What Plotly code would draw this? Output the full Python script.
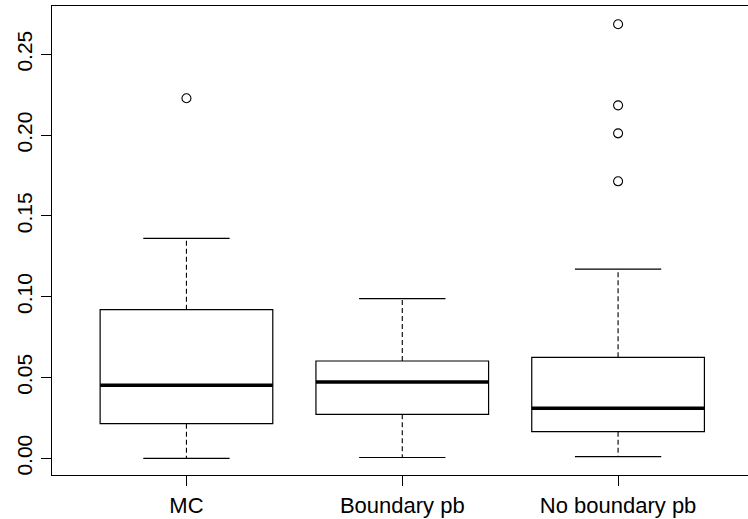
import plotly.graph_objects as go

# ---- data ----
categories = ["MC", "Boundary pb", "No boundary pb"]
positions = [1, 2, 3]
lower_whisker = [0.0000, 0.0005, 0.0010]
q1 = [0.0214, 0.0272, 0.0165]
median = [0.0452, 0.0472, 0.0309]
q3 = [0.0920, 0.0602, 0.0625]
upper_whisker = [0.1361, 0.0988, 0.1171]
outliers = [[0.2228], [], [0.2686, 0.2184, 0.2011, 0.1714]]
y_tick_values = [0.00, 0.05, 0.10, 0.15, 0.20, 0.25]
y_tick_labels = ["0.00", "0.05", "0.10", "0.15", "0.20", "0.25"]

BOX_HALF = 0.4
CAP_HALF = 0.2
FONT = "Liberation Sans, Arial, Helvetica, sans-serif"

fig = go.Figure()
shapes = []
for i, p in enumerate(positions):
    # box
    shapes.append(dict(type="rect", xref="x", yref="y",
                       x0=p - BOX_HALF, x1=p + BOX_HALF, y0=q1[i], y1=q3[i],
                       line=dict(color="black", width=1.2), fillcolor="rgba(0,0,0,0)"))
    # median
    shapes.append(dict(type="line", xref="x", yref="y",
                       x0=p - BOX_HALF, x1=p + BOX_HALF, y0=median[i], y1=median[i],
                       line=dict(color="black", width=3.5)))
    # whiskers (dashed)
    shapes.append(dict(type="line", xref="x", yref="y",
                       x0=p, x1=p, y0=q3[i], y1=upper_whisker[i],
                       line=dict(color="black", width=1.1, dash="5px,3px")))
    shapes.append(dict(type="line", xref="x", yref="y",
                       x0=p, x1=p, y0=q1[i], y1=lower_whisker[i],
                       line=dict(color="black", width=1.1, dash="5px,3px")))
    # caps
    for w in (upper_whisker[i], lower_whisker[i]):
        shapes.append(dict(type="line", xref="x", yref="y",
                           x0=p - CAP_HALF, x1=p + CAP_HALF, y0=w, y1=w,
                           line=dict(color="black", width=1.2)))

ox, oy = [], []
for i, p in enumerate(positions):
    for v in outliers[i]:
        ox.append(p)
        oy.append(v)
fig.add_trace(go.Scatter(x=ox, y=oy, mode="markers",
                         marker=dict(symbol="circle-open", size=9, color="black",
                                     line=dict(width=1.1, color="black")),
                         showlegend=False, hoverinfo="skip"))

fig.update_layout(
    width=748, height=519,
    margin=dict(l=52, r=0, t=6, b=44),
    paper_bgcolor="white", plot_bgcolor="white",
    shapes=shapes,
    font=dict(family=FONT, size=22, color="black"),
    showlegend=False,
)
fig.update_xaxes(
    range=[0.377, 3.602], tickmode="array", tickvals=positions, ticktext=categories,
    ticks="outside", ticklen=10, tickwidth=1.1, tickcolor="black",
    showline=True, linecolor="black", linewidth=1.3, mirror=True,
    showgrid=False, zeroline=False,
    tickfont=dict(family=FONT, size=22, color="black"),
)
fig.update_yaxes(
    range=[-0.01033, 0.27989], tickmode="array", tickvals=y_tick_values, ticktext=y_tick_labels,
    ticks="outside", ticklen=10, tickwidth=1.1, tickcolor="black", tickangle=-90,
    showline=True, linecolor="black", linewidth=1.3,
    showgrid=False, zeroline=False,
    tickfont=dict(family=FONT, size=21, color="black"),
)

fig.write_html("out.html")
